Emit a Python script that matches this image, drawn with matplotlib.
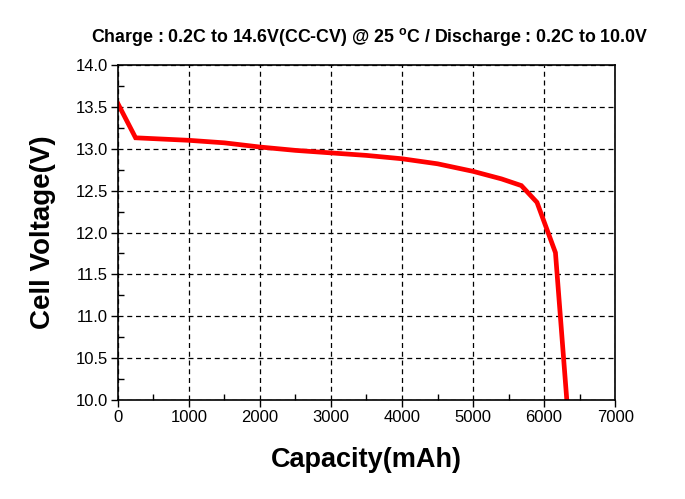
import numpy as np
import matplotlib.pyplot as plt
from matplotlib.ticker import MultipleLocator

capacity = [0, 250, 1000, 1500, 2000, 2500, 3000, 3500, 4000, 4500, 5000, 5400, 5680, 5900, 6160, 6320]
voltage = [13.54, 13.13, 13.10, 13.07, 13.02, 12.98, 12.95, 12.92, 12.88, 12.82, 12.73, 12.64, 12.56, 12.36, 11.76, 10.0]

title = "Charge : 0.2C to 14.6V(CC-CV) @ 25 $^{\\mathregular{o}}$C / Discharge : 0.2C to 10.0V"

plt.rcParams['font.family'] = ['Liberation Sans', 'DejaVu Sans']
plt.rcParams['mathtext.fontset'] = 'custom'
plt.rcParams['mathtext.rm'] = 'Liberation Sans:bold'

fig = plt.figure(figsize=(6.85, 4.99), dpi=100)
ax = fig.add_axes([0.172, 0.198, 0.726, 0.672])

ax.plot(capacity, voltage, color='#ff0000', linewidth=3.4, solid_joinstyle='miter')

ax.set_xlim(0, 7000)
ax.set_ylim(10.0, 14.0)
ax.xaxis.set_major_locator(MultipleLocator(1000))
ax.xaxis.set_minor_locator(MultipleLocator(500))
ax.yaxis.set_major_locator(MultipleLocator(0.5))
ax.yaxis.set_minor_locator(MultipleLocator(0.25))
ax.yaxis.set_major_formatter(plt.FormatStrFormatter('%.1f'))

ax.tick_params(which='major', direction='out', length=5, width=1, labelsize=12, pad=2)
ax.tick_params(which='minor', direction='in', length=4, width=1)
ax.grid(True, which='major', linestyle=(0, (4, 3)), color='black', linewidth=0.9)
for s in ax.spines.values():
    s.set_linewidth(1.2)

ax.set_xlabel("Capacity(mAh)", fontsize=19.5, fontweight='bold', labelpad=16)
ax.set_ylabel("Cell Voltage(V)", fontsize=20, fontweight='bold', labelpad=14)
fig.text(0.540, 0.925, title, ha='center', va='center', fontsize=12.8, fontweight='bold')

fig.savefig("out.png", dpi=100)
